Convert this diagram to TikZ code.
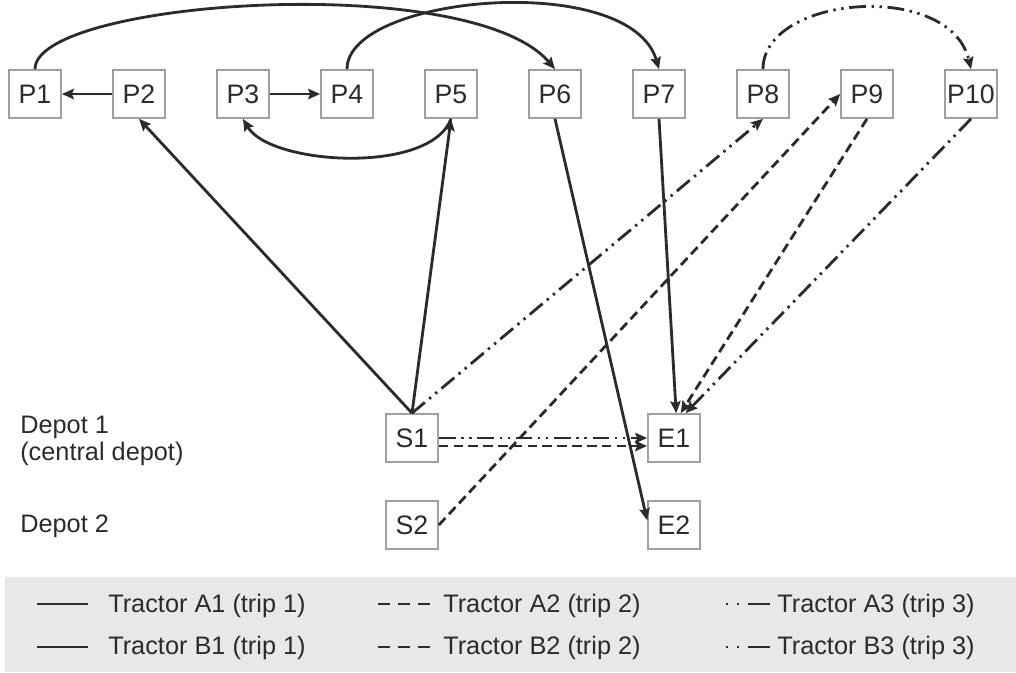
\documentclass[tikz,border=0pt]{standalone}
\usepackage{fontspec}
\setmainfont{Liberation Sans}
\usetikzlibrary{arrows.meta}
\definecolor{ink}{HTML}{2B2B2B}
\definecolor{boxline}{HTML}{A0A0A0}
\definecolor{legbg}{HTML}{E8E8E8}
\begin{document}
\begin{tikzpicture}[x=0.025cm,y=-0.025cm,
  font=\fontsize{18}{19.2}\selectfont,
  pbox/.style={draw=boxline, line width=1.2pt, minimum width=1.3cm, minimum height=1.2cm, inner sep=0pt, text=ink, fill=white, font=\fontsize{19}{20}\selectfont},
  route/.style={draw=ink, line width=2pt, -{Stealth[length=0.3cm,width=0.26cm,inset=0.05cm]}},
  trip2/.style={dash pattern=on 0.24cm off 0.13cm},
  trip3/.style={dash pattern=on 0.42cm off 0.14cm on 0.06cm off 0.14cm on 0.06cm off 0.14cm},
  legline/.style={draw=ink, line width=2pt},
  legtext/.style={anchor=base west, inner sep=0pt, text=ink},
  lbl/.style={inner sep=0pt, text=ink}]
\useasboundingbox (0,0) rectangle (1016,672);
\fill[legbg] (5,577) rectangle (1016,672);

% nodes
\node[pbox] (P1) at (35,94) {P1};
\node[pbox] (P2) at (139,94) {P2};
\node[pbox] (P3) at (243,94) {P3};
\node[pbox] (P4) at (347,94) {P4};
\node[pbox] (P5) at (451,94) {P5};
\node[pbox] (P6) at (555,94) {P6};
\node[pbox] (P7) at (659,94) {P7};
\node[pbox] (P8) at (763,94) {P8};
\node[pbox] (P9) at (867,94) {P9};
\node[pbox] (P10) at (971,94) {P10};
\node[pbox] (S1) at (412,438) {S1};
\node[pbox] (E1) at (674,438) {E1};
\node[pbox] (S2) at (412,525) {S2};
\node[pbox] (E2) at (674,525) {E2};

\node[lbl, anchor=west, align=left] (d1) at (20,441) {Depot 1\\(central depot)};
\node[lbl, anchor=base west] (d2) at (20,532) {Depot 2};

% trip 1 (solid)
\draw[route] (P2) -- (P1);
\draw[route] (P3) -- (P4);
\draw[route] (P1.north) .. controls (35,0) and (470,-30) .. (P6.north);
\draw[route] (P4.north) .. controls (347,-5) and (630,-30) .. (P7.north);
\draw[route] (P5.south) .. controls (430,175) and (270,165) .. (P3.south);
\draw[route] (S1.north) -- (P2.south);
\draw[route] (S1.north) -- (P5.south);
\draw[route] (P6.south) -- (E2.170);
\draw[route] (P7.south) -- (E1.85);

% trip 2 (dashed)
\draw[route,trip2] (S2.east) -- (P9.west);
\draw[route,trip2] (P9.south) -- (E1.75);
\draw[route,trip2] ([yshift=-0.2cm]S1.east) -- ([yshift=-0.2cm]E1.west);

% trip 3 (dash dot dot)
\draw[route,trip3] (S1.east) -- (E1.west);
\draw[route,trip3] (S1.north) -- (P8.south);
\draw[route,trip3] (P10.south) -- (E1.65);
\draw[route,trip3] (P8.north) .. controls (763,-5) and (950,-20) .. (P10.north);

% legend
\coordinate (la1) at (37,604); \coordinate (lb1) at (88,604);
\coordinate (la2) at (37,647); \coordinate (lb2) at (88,647);
\coordinate (lc1) at (378,604); \coordinate (ld1) at (430,604);
\coordinate (lc2) at (378,647); \coordinate (ld2) at (430,647);
\coordinate (le1) at (726,604); \coordinate (lf1) at (771,604);
\coordinate (le2) at (726,647); \coordinate (lf2) at (771,647);
\draw[legline] (la1) -- (lb1);
\draw[legline] (la2) -- (lb2);
\draw[legline, dash pattern=on 0.3cm off 0.2cm] (lc1) -- (ld1);
\draw[legline, dash pattern=on 0.3cm off 0.2cm] (lc2) -- (ld2);
\draw[legline, dash pattern=on 0.05cm off 0.225cm on 0.05cm off 0.225cm on 0.55cm off 1cm] (le1) -- (lf1);
\draw[legline, dash pattern=on 0.05cm off 0.225cm on 0.05cm off 0.225cm on 0.55cm off 1cm] (le2) -- (lf2);
\node[legtext] (ta1) at (108,612) {Tractor A1 (trip 1)};
\node[legtext] (ta2) at (443,612) {Tractor A2 (trip 2)};
\node[legtext] (ta3) at (777,612) {Tractor A3 (trip 3)};
\node[legtext] (tb1) at (108,654) {Tractor B1 (trip 1)};
\node[legtext] (tb2) at (443,654) {Tractor B2 (trip 2)};
\node[legtext] (tb3) at (777,654) {Tractor B3 (trip 3)};
\end{tikzpicture}
\end{document}
